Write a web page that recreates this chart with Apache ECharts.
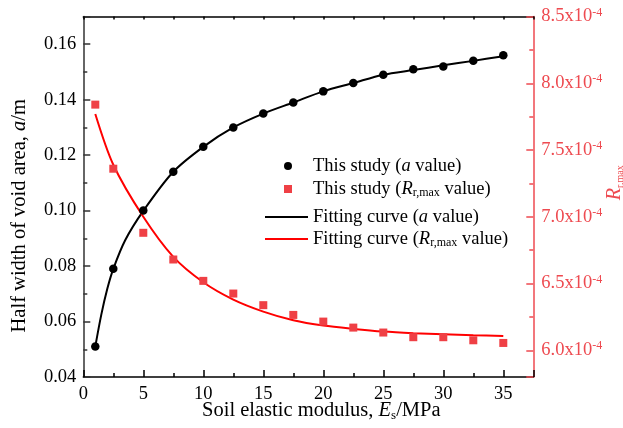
<!DOCTYPE html>
<html>
<head>
<meta charset="utf-8">
<script src="https://cdn.jsdelivr.net/npm/echarts@6/dist/echarts.min.js"></script>
<style>
  html, body { margin: 0; padding: 0; background: #ffffff; }
  #chart { width: 623px; height: 428px; }
</style>
</head>
<body>
<div id="chart"></div>
<script>
// Soil elastic modulus Es (MPa) of the computed cases
const modulus = [1, 2.5, 5, 7.5, 10, 12.5, 15, 17.5, 20, 22.5, 25, 27.5, 30, 32.5, 35];
// Half width of the void area, a (m)
const halfWidth = [0.051, 0.079, 0.100, 0.114, 0.123, 0.130, 0.135, 0.139, 0.143, 0.146, 0.149, 0.151, 0.152, 0.154, 0.156];
// R_r,max expressed in units of 1e-4
const rMaxE4 = [7.84, 7.36, 6.88, 6.68, 6.52, 6.425, 6.338, 6.265, 6.215, 6.17, 6.133, 6.098, 6.098, 6.075, 6.055];

// Fitting curve of a
const fitAModulus = [1, 1.5, 2, 2.5, 3.5, 5, 7.5, 10, 12.5, 15, 17.5, 20, 22.5, 25, 27.5, 30, 32.5, 35];
const fitAValue   = [0.051, 0.0625, 0.0718, 0.079, 0.0894, 0.0999, 0.114, 0.123, 0.130, 0.135, 0.139, 0.143, 0.146, 0.149, 0.1507, 0.1524, 0.154, 0.1557];
// Fitting curve of R_r,max (units of 1e-4)
const fitRModulus = [1, 2.5, 5, 7.5, 10, 12.5, 15, 17.5, 20, 22.5, 25, 27.5, 30, 32.5, 35];
const fitRValue   = [7.77, 7.39, 7.00, 6.70, 6.51, 6.38, 6.29, 6.225, 6.185, 6.16, 6.14, 6.128, 6.12, 6.113, 6.107];

// Series names and their rich-text legend labels
const seriesNames = ['This study (a value)', 'This study (Rr,max value)', 'Fitting curve (a value)', 'Fitting curve (Rr,max value)'];
const legendLabels = {
  'This study (a value)': '{t|This study (}{i|a}{t| value)}',
  'This study (Rr,max value)': '{t|This study (}{i|R}{sub|r,max}{t| value)}',
  'Fitting curve (a value)': '{t|Fitting curve (}{i|a}{t| value)}',
  'Fitting curve (Rr,max value)': '{t|Fitting curve (}{i|R}{sub|r,max}{t| value)}'
};
// Axis titles
const xTitle = '{t|Soil elastic modulus, }{i|E}{sub|s}{t|/MPa}';
const yLeftTitle = '{t|Half width of void area, }{i|a}{t|/m}';
const yRightTitle = '{i|R}{sub|r,max}';

const FONT = 'Liberation Serif';
const RED_AXIS = '#ee4a50';
const RED_MARK = '#ef4045';
const RED_LINE = '#ff0000';

const pair = (xs, ys) => xs.map((x, i) => [x, ys[i]]);

const legendRich = {
  t: { fontFamily: FONT, fontSize: 18.5, lineHeight: 20, color: '#000' },
  i: { fontFamily: FONT, fontSize: 18.5, lineHeight: 20, fontStyle: 'italic', color: '#000' },
  sub: { fontFamily: FONT, fontSize: 12, lineHeight: 2, verticalAlign: 'bottom', color: '#000' }
};

// One legend block per row so each row sits at its own height
function legendFor(name, icon, left, top, itemWidth, itemHeight, textShift) {
  return {
    data: [{ name: name, icon: icon }],
    left: left, top: top,
    orient: 'vertical',
    padding: 0,
    itemWidth: itemWidth, itemHeight: itemHeight,
    itemGap: 0,
    selectedMode: false,
    symbolKeepAspect: true,
    itemStyle: { borderWidth: 0 },
    formatter: n => legendLabels[n],
    textStyle: {
      fontFamily: FONT, fontSize: 18.5, lineHeight: 20, color: '#000',
      padding: [0, 0, 0, textShift], rich: legendRich
    }
  };
}

const chart = echarts.init(document.getElementById('chart'), null, { renderer: 'canvas' });

chart.setOption({
  animation: false,
  backgroundColor: '#ffffff',
  grid: { left: 83.3, right: 89.7, top: 16.5, bottom: 51, containLabel: false, outerBoundsMode: 'none' },
  legend: [
    legendFor(seriesNames[0], 'circle', 284, 156, 8, 8, 16),
    legendFor(seriesNames[1], 'rect', 284, 179, 8, 8, 16),
    legendFor(seriesNames[2], 'rect', 265, 207, 43, 2, 0),
    legendFor(seriesNames[3], 'rect', 265, 229, 43, 2, 0)
  ],
  xAxis: [{
    type: 'value', position: 'bottom',
    min: 0, max: 37.5, interval: 5,
    name: xTitle, nameLocation: 'middle', nameGap: 23, nameMoveOverlap: false,
    nameTextStyle: {
      fontFamily: FONT, fontSize: 20.5, color: '#000', padding: [0, 0, 0, 26],
      rich: {
        t: { fontFamily: FONT, fontSize: 20.5, lineHeight: 22, color: '#000' },
        i: { fontFamily: FONT, fontSize: 20.5, lineHeight: 22, fontStyle: 'italic', color: '#000' },
        sub: { fontFamily: FONT, fontSize: 13, lineHeight: 4, verticalAlign: 'bottom', color: '#000' }
      }
    },
    axisLine: { show: true, onZero: false, lineStyle: { color: '#000', width: 1.5 } },
    axisTick: { show: true, inside: true, length: 7, lineStyle: { color: '#000', width: 1.5 } },
    minorTick: { show: true, splitNumber: 2, length: 4, lineStyle: { color: '#000', width: 1.5 } },
    axisLabel: { show: true, margin: 8, fontFamily: FONT, fontSize: 18.5, color: '#000', showMaxLabel: false, showMinLabel: true },
    splitLine: { show: false }
  }, {
    type: 'value', position: 'top',
    min: 0, max: 37.5, interval: 2.5,
    axisLine: { show: true, onZero: false, lineStyle: { color: '#000', width: 1.5 } },
    axisTick: { show: true, inside: true, length: 3, lineStyle: { color: '#000', width: 1.5 } },
    axisLabel: { show: false },
    splitLine: { show: false }
  }],
  yAxis: [{
    type: 'value', position: 'left',
    min: 0.04, max: 0.17, interval: 0.02,
    name: yLeftTitle, nameLocation: 'middle', nameGap: 53, nameRotate: 90, nameMoveOverlap: false,
    nameTextStyle: {
      fontFamily: FONT, fontSize: 20.5, color: '#000', padding: [0, 38, 0, 0],
      rich: {
        t: { fontFamily: FONT, fontSize: 20.5, lineHeight: 22, color: '#000' },
        i: { fontFamily: FONT, fontSize: 20.5, lineHeight: 22, fontStyle: 'italic', color: '#000' }
      }
    },
    axisLine: { show: true, onZero: false, lineStyle: { color: '#333', width: 1.5 } },
    axisTick: { show: true, inside: true, length: 7, lineStyle: { color: '#333', width: 1.5 } },
    minorTick: { show: true, splitNumber: 2, length: 4, lineStyle: { color: '#333', width: 1.5 } },
    axisLabel: {
      show: true, margin: 7, fontFamily: FONT, fontSize: 18.5, color: '#000',
      showMaxLabel: false, showMinLabel: true,
      formatter: v => v.toFixed(2)
    },
    splitLine: { show: false }
  }, {
    type: 'value', position: 'right',
    min: 5.8, max: 8.5, splitNumber: 5,
    name: yRightTitle, nameLocation: 'middle', nameGap: 70, nameRotate: 90, nameMoveOverlap: false,
    nameTextStyle: {
      color: RED_AXIS, padding: [0, 0, 0, 28],
      rich: {
        i: { fontFamily: FONT, fontSize: 20, lineHeight: 22, fontStyle: 'italic', color: RED_AXIS },
        sub: { fontFamily: FONT, fontSize: 10, lineHeight: 2, verticalAlign: 'bottom', color: RED_AXIS }
      }
    },
    axisLine: { show: true, onZero: false, lineStyle: { color: RED_AXIS, width: 1.5 } },
    axisTick: { show: true, inside: true, length: 7, lineStyle: { color: RED_AXIS, width: 1.5 } },
    minorTick: { show: true, splitNumber: 2, length: 4, lineStyle: { color: RED_AXIS, width: 1.5 } },
    axisLabel: {
      show: true, margin: 8, color: RED_AXIS,
      showMinLabel: false, showMaxLabel: true,
      formatter: v => '{m|' + v.toFixed(1) + 'x10}{sup|-4}',
      rich: {
        m: { fontFamily: FONT, fontSize: 18.5, lineHeight: 20, color: RED_AXIS },
        sup: { fontFamily: FONT, fontSize: 12, lineHeight: 8, verticalAlign: 'top', color: RED_AXIS }
      }
    },
    splitLine: { show: false }
  }],
  series: [{
    name: seriesNames[2], type: 'line', xAxisIndex: 0, yAxisIndex: 0,
    data: pair(fitAModulus, fitAValue),
    smooth: 0.3, symbol: 'none', showSymbol: false,
    color: '#000', itemStyle: { color: '#000' },
    lineStyle: { color: '#000', width: 2 },
    emphasis: { disabled: true }, z: 2
  }, {
    name: seriesNames[3], type: 'line', xAxisIndex: 0, yAxisIndex: 1,
    data: pair(fitRModulus, fitRValue),
    smooth: 0.3, symbol: 'none', showSymbol: false,
    color: RED_LINE, itemStyle: { color: RED_LINE },
    lineStyle: { color: RED_LINE, width: 2 },
    emphasis: { disabled: true }, z: 2
  }, {
    name: seriesNames[0], type: 'scatter', xAxisIndex: 0, yAxisIndex: 0,
    data: pair(modulus, halfWidth),
    symbol: 'circle', symbolSize: 8.5,
    itemStyle: { color: '#000', opacity: 1 },
    emphasis: { disabled: true }, z: 3
  }, {
    name: seriesNames[1], type: 'scatter', xAxisIndex: 0, yAxisIndex: 1,
    data: pair(modulus, rMaxE4),
    symbol: 'rect', symbolSize: 8,
    itemStyle: { color: RED_MARK, opacity: 1 },
    emphasis: { disabled: true }, z: 3
  }]
});
</script>
</body>
</html>
